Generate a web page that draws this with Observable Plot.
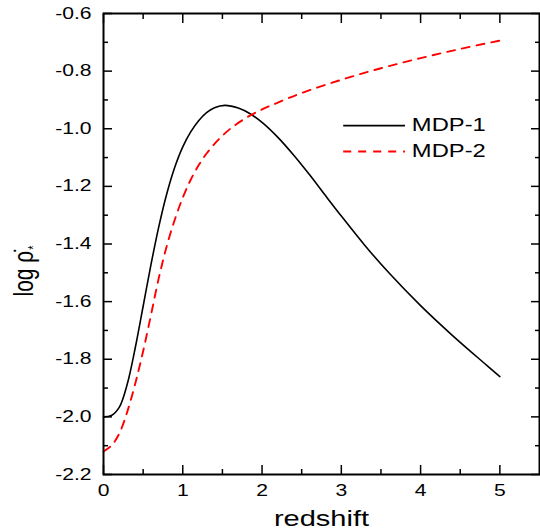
<!DOCTYPE html>
<html>
<head>
<meta charset="utf-8">
<script src="https://cdn.jsdelivr.net/npm/d3@7"></script>
<script src="https://cdn.jsdelivr.net/npm/@observablehq/plot@0.6"></script>
<style>
  html, body { margin: 0; padding: 0; background: #fff; }
</style>
</head>
<body>
<div id="chart"></div>
<script>
// ---- data ----
const redshift1 = [0, 0.1, 0.2, 0.3, 0.4, 0.5, 0.6, 0.7, 0.8, 0.9, 1.0, 1.1, 1.2, 1.3, 1.4, 1.53, 1.7, 1.85, 2.0, 2.2, 2.4, 2.6, 2.8, 3.0, 3.3, 3.6, 4.0, 4.4, 4.8, 5.0];
const logRho1   = [-2.00, -1.995, -1.966, -1.886, -1.761, -1.616, -1.47, -1.337, -1.224, -1.133, -1.063, -1.011, -0.972, -0.944, -0.927, -0.919, -0.928, -0.948, -0.978, -1.030, -1.092, -1.160, -1.232, -1.303, -1.406, -1.500, -1.614, -1.717, -1.813, -1.860];

const redshift2 = [0, 0.1, 0.2, 0.3, 0.4, 0.5, 0.6, 0.7, 0.8, 0.9, 1.0, 1.1, 1.2, 1.3, 1.45, 1.6, 1.8, 2.0, 2.2, 2.5, 3.0, 3.5, 4.0, 4.5, 5.0];
const logRho2   = [-2.12, -2.10, -2.057, -1.982, -1.885, -1.772, -1.645, -1.515, -1.405, -1.315, -1.239, -1.177, -1.127, -1.086, -1.038, -1.000, -0.962, -0.933, -0.909, -0.876, -0.830, -0.790, -0.755, -0.723, -0.694];

const seriesNames = ["MDP-1", "MDP-2"];
const xMajorTicks = [0, 1, 2, 3, 4, 5];
const xMinorTicks = [0.5, 1.5, 2.5, 3.5, 4.5];
const yMajorTicks = [-2.2, -2.0, -1.8, -1.6, -1.4, -1.2, -1.0, -0.8, -0.6];
const yMinorTicks = [-2.1, -1.9, -1.7, -1.5, -1.3, -1.1, -0.9, -0.7];
const xTitle = "redshift";
const yTitle = "log ρ̇";
const yTitleSub = "*";

// ---- layout / styling (kept apart from the data) ----
const legendLayout = { x1: 3.03, x2: 3.81, textX: 3.89, rowY: [-0.989, -1.079] };
const colors = ["#000000", "#ff0000"];
const DASH = "8,7";
const FONT = "'Liberation Sans', Arial, Helvetica, sans-serif";
const STRETCH = 1.32;

const mdp1 = redshift1.map((z, i) => ({ z, v: logRho1[i] }));
const mdp2 = redshift2.map((z, i) => ({ z, v: logRho2[i] }));
const legendRows = seriesNames.map((name, i) => ({ name, y: legendLayout.rowY[i] }));

const fmt = d => d.toFixed(1);

const chart = Plot.plot({
  width: 540,
  height: 529,
  marginLeft: 103,
  marginRight: 1,
  marginTop: 13,
  marginBottom: 55,
  style: { fontFamily: FONT, background: "#fff", color: "#000", overflow: "visible" },
  x: { domain: [0, 5.5], label: null },
  y: { domain: [-2.2, -0.6], label: null },
  marks: [
    // curves
    Plot.line(mdp1, { x: "z", y: "v", stroke: colors[0], strokeWidth: 1.6, curve: "catmull-rom" }),
    Plot.line(mdp2, { x: "z", y: "v", stroke: colors[1], strokeWidth: 1.9, strokeDasharray: DASH, curve: "catmull-rom" }),

    // left axis: inward ticks + labels
    Plot.axisY(yMajorTicks, { anchor: "left", tickSize: 9, dx: 9, tickPadding: 12, tickFormat: fmt, fontSize: 16, strokeWidth: 1.5, label: null }),
    Plot.axisY(yMinorTicks, { anchor: "left", tickSize: 5, dx: 5, fill: "none", strokeWidth: 1.5, label: null }),
    // right axis: ticks only
    Plot.axisY(yMajorTicks, { anchor: "right", tickSize: 9, dx: -9, fill: "none", strokeWidth: 1.5, label: null }),
    Plot.axisY(yMinorTicks, { anchor: "right", tickSize: 5, dx: -5, fill: "none", strokeWidth: 1.5, label: null }),
    // bottom axis: inward ticks + labels
    Plot.axisX(xMajorTicks, { anchor: "bottom", tickSize: 9, dy: -9, tickPadding: 10, tickFormat: d => String(d), fontSize: 16, strokeWidth: 1.5, label: null }),
    Plot.axisX(xMinorTicks, { anchor: "bottom", tickSize: 5, dy: -5, fill: "none", strokeWidth: 1.5, label: null }),
    // top axis: ticks only
    Plot.axisX(xMajorTicks, { anchor: "top", tickSize: 9, dy: 9, fill: "none", strokeWidth: 1.5, label: null }),
    Plot.axisX(xMinorTicks, { anchor: "top", tickSize: 5, dy: 5, fill: "none", strokeWidth: 1.5, label: null }),

    Plot.frame({ stroke: "#000", strokeWidth: 2 }),

    // legend
    Plot.ruleY([legendRows[0]], { y: "y", x1: legendLayout.x1, x2: legendLayout.x2, stroke: colors[0], strokeWidth: 1.6 }),
    Plot.ruleY([legendRows[1]], { y: "y", x1: legendLayout.x1, x2: legendLayout.x2, stroke: colors[1], strokeWidth: 1.9, strokeDasharray: DASH }),
    Plot.text(legendRows, { x: legendLayout.textX, y: "y", text: "name", textAnchor: "start", fontSize: 18, fill: "#000" }),

    // axis titles
    Plot.text([xTitle], { frameAnchor: "bottom", dy: 51, lineAnchor: "bottom", fontSize: 22, fill: "#000" }),
    Plot.text([yTitle], { frameAnchor: "left", dx: -71, dy: 27, rotate: -90, textAnchor: "middle", lineAnchor: "bottom", fontSize: 21, fill: "#000" })
  ]
});

// subscript asterisk on the y title
chart.querySelectorAll("text").forEach(t => {
  if (t.textContent === yTitle) {
    const ts = document.createElementNS("http://www.w3.org/2000/svg", "tspan");
    ts.setAttribute("font-size", "11");
    ts.setAttribute("dy", "4");
    ts.setAttribute("dx", "1");
    ts.textContent = yTitleSub;
    t.appendChild(ts);
  }
});

// the reference's lettering is horizontally wide: stretch glyphs about their anchor
chart.querySelectorAll("text").forEach(t => {
  const tr = t.getAttribute("transform") || "";
  if (/rotate/.test(tr)) t.setAttribute("transform", tr + ` scale(1,${STRETCH})`);
  else if (tr) t.setAttribute("transform", tr + ` scale(${STRETCH},1)`);
});

document.getElementById("chart").appendChild(chart);
</script>
</body>
</html>
